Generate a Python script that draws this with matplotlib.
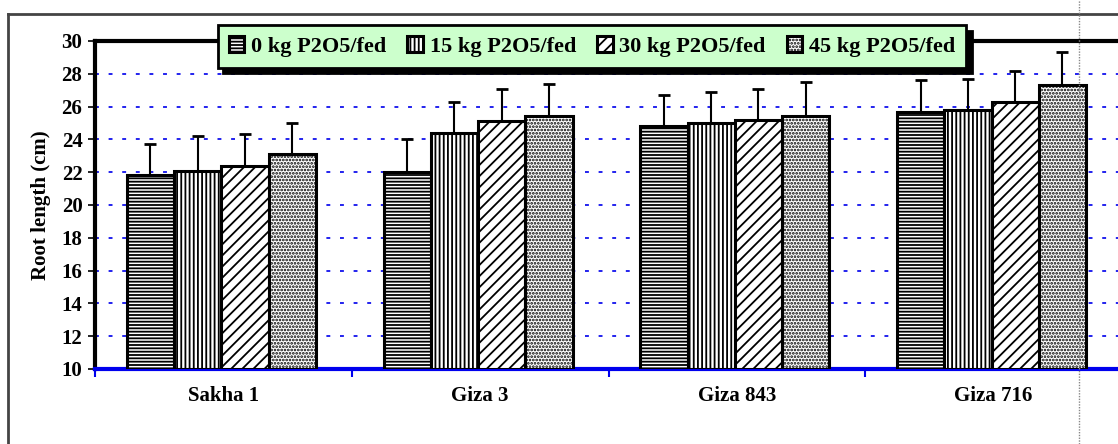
import matplotlib.pyplot as plt
from matplotlib.lines import Line2D
import numpy as np

plt.rcParams['font.family'] = ['Liberation Serif', 'DejaVu Serif']
plt.rcParams['font.weight'] = 'bold'
plt.rcParams['hatch.linewidth'] = 1.3

varieties = ['Sakha 1', 'Giza 3', 'Giza 843', 'Giza 716']
doses = ['0 kg P2O5/fed', '15 kg P2O5/fed', '30 kg P2O5/fed', '45 kg P2O5/fed']

# root length (cm), one list per P dose
root_0 = [21.8, 22.0, 24.8, 25.7]
root_15 = [22.1, 24.4, 25.0, 25.8]
root_30 = [22.4, 25.1, 25.2, 26.3]
root_45 = [23.1, 25.4, 25.4, 27.3]

# upper error (cm)
err_0 = [1.9, 2.0, 1.9, 1.9]
err_15 = [2.1, 1.9, 1.9, 1.9]
err_30 = [1.9, 2.0, 1.9, 1.9]
err_45 = [1.9, 2.0, 2.1, 2.0]

values = [root_0, root_15, root_30, root_45]
errors = [err_0, err_15, err_30, err_45]
hatches = ['-----', '||||', '///', '.....']

fig = plt.figure(figsize=(11.18, 4.44), dpi=100)
ax = fig.add_axes([95 / 1118, 75 / 444, 1027 / 1118, 328 / 444])

x = np.arange(len(varieties))
w = 0.184
for i in range(4):
    pos = x + (i - 1.5) * w - 0.008
    ax.bar(pos, np.array(values[i]) - 10, w, bottom=10, color='white',
           edgecolor='black', linewidth=2.2, hatch=hatches[i], label=doses[i], zorder=3)
    ax.errorbar(pos, values[i], yerr=[[0] * 4, errors[i]], fmt='none',
                ecolor='black', elinewidth=1.5, capsize=4.5, capthick=2, zorder=4)

ax.set_xlim(-0.5, 3.5)
ax.set_ylim(10, 30)
ax.set_yticks(range(10, 31, 2))
ax.yaxis.grid(True, color='#2222ee', linestyle=(0, (2, 5)), linewidth=1.4)
ax.set_axisbelow(True)

ax.set_xticks(x)
ax.set_xticklabels(varieties, fontsize=15, fontweight='bold')
ax.tick_params(axis='x', length=0, pad=12)
ax.set_xticks(np.arange(-0.5, 4, 1), minor=True)
ax.tick_params(axis='x', which='minor', length=6, width=1.5, color='#0000ee')
ax.tick_params(axis='y', length=5, width=1.2, labelsize=15, pad=4)
for lab in ax.get_yticklabels():
    lab.set_fontweight('bold')

ax.spines['bottom'].set_color('#0000ee')
ax.spines['bottom'].set_linewidth(3)
ax.spines['left'].set_linewidth(3)
ax.spines['top'].set_linewidth(3)
ax.spines['right'].set_visible(False)

ax.set_ylabel('Root length (cm)', fontsize=15, fontweight='bold', labelpad=8)

leg = ax.legend(loc='center', bbox_to_anchor=(592 / 1118, 1 - 46.5 / 444),
                bbox_transform=fig.transFigure, ncol=4, fancybox=False,
                facecolor='#ccffcc', edgecolor='black', framealpha=1,
                shadow={'color': 'black', 'alpha': 1, 'ox': 4, 'oy': -4},
                prop={'size': 16, 'weight': 'bold'},
                handlelength=0.7, handleheight=0.7, handletextpad=0.3, columnspacing=0.95,
                borderpad=0.5)
leg.get_frame().set_linewidth(2)
leg.set_zorder(10)

# outer chart frame
fig.add_artist(Line2D([8 / 1118, 1], [1 - 14 / 444] * 2, color='#444444', lw=2))
fig.add_artist(Line2D([8 / 1118] * 2, [0, 1 - 14 / 444], color='#444444', lw=2))
fig.add_artist(Line2D([1079 / 1118] * 2, [0, 1], color='#888888', lw=1, linestyle=(0, (1, 1))))

fig.savefig('out.png', dpi=100)
